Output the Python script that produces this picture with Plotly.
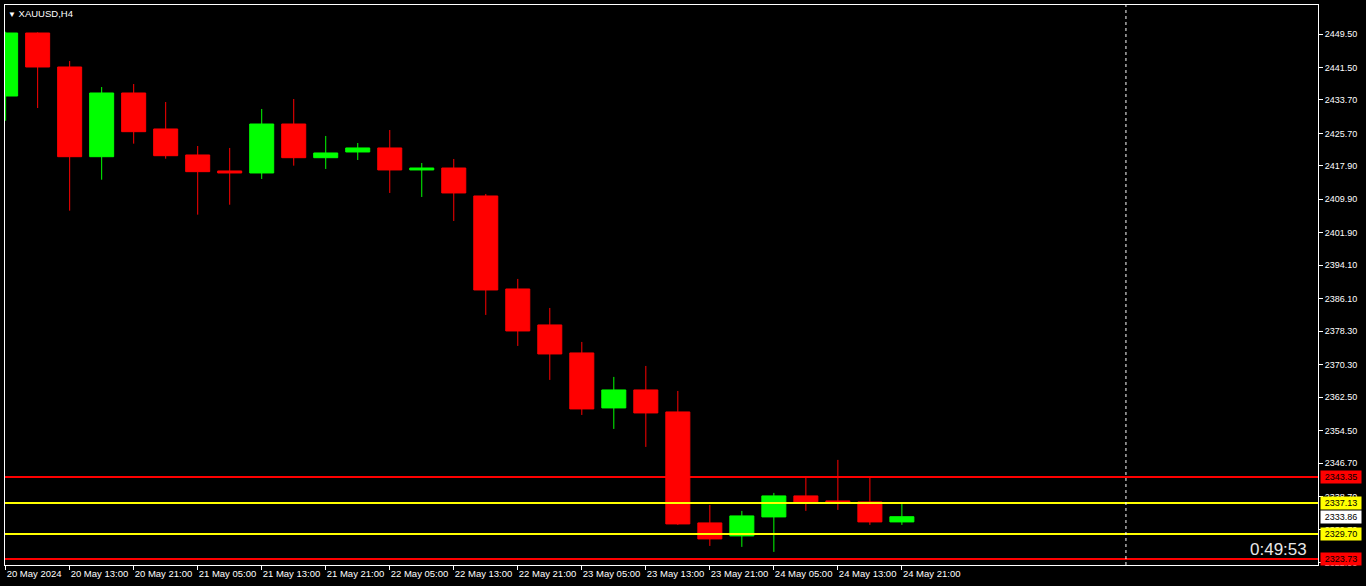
import plotly.graph_objects as go

# ---------------- data ----------------
symbol_title = "XAUUSD,H4"
tick_labels = ["20 May 2024", "20 May 13:00", "20 May 21:00", "21 May 05:00", "21 May 13:00",
               "21 May 21:00", "22 May 05:00", "22 May 13:00", "22 May 21:00", "23 May 05:00",
               "23 May 13:00", "23 May 21:00", "24 May 05:00", "24 May 13:00", "24 May 21:00"]
bar_index = list(range(29))
tick_index = list(range(0, 29, 2))

opens = [2434.65, 2449.74, 2441.60, 2420.11, 2435.37, 2426.75, 2420.52, 2416.69, 2416.21, 2427.94,
         2419.87, 2421.24, 2422.20, 2416.93, 2417.40, 2410.70, 2388.42, 2379.80, 2373.09, 2359.92,
         2364.23, 2358.96, 2332.37, 2329.26, 2333.81, 2338.84, 2337.64, 2337.40, 2332.61]
highs = [2450.05, 2449.90, 2443.03, 2436.80, 2437.52, 2433.21, 2422.67, 2422.20, 2431.54, 2433.93,
         2425.07, 2423.39, 2426.50, 2418.60, 2419.56, 2411.18, 2390.82, 2383.87, 2375.73, 2367.35,
         2369.98, 2363.99, 2336.69, 2335.25, 2339.56, 2343.39, 2347.47, 2343.39, 2336.93]
lows = [2428.73, 2431.77, 2407.18, 2414.60, 2423.23, 2419.63, 2406.22, 2408.60, 2414.77, 2417.96,
        2417.17, 2419.32, 2411.42, 2410.46, 2404.71, 2382.20, 2374.77, 2366.63, 2358.24, 2354.89,
        2350.58, 2331.90, 2326.86, 2326.63, 2325.43, 2335.25, 2335.49, 2331.90, 2331.90]
closes = [2449.74, 2441.60, 2420.11, 2435.37, 2426.10, 2420.35, 2416.52, 2416.21, 2427.94, 2419.87,
          2421.00, 2422.20, 2416.93, 2417.40, 2411.42, 2388.18, 2378.36, 2372.85, 2359.68, 2364.23,
          2358.72, 2332.13, 2328.54, 2334.05, 2338.84, 2337.40, 2337.16, 2332.61, 2333.86]

y_tick_values = [2449.50, 2441.50, 2433.70, 2425.70, 2417.90, 2409.90, 2401.90, 2394.10,
                 2386.10, 2378.30, 2370.30, 2362.50, 2354.50, 2346.70, 2338.70, 2330.70, 2322.90]

level_prices = [2343.35, 2337.13, 2329.70, 2323.73]
level_colors = ["#ff0000", "#ffff00", "#ffff00", "#ff0000"]
current_price = 2333.86
timer_text = "0:49:53"
future_marker_index = 35

# ---------------- figure ----------------
GREEN = "#00ff00"
RED = "#ff0000"
FONT = "Liberation Sans"

fig = go.Figure()
fig.add_trace(go.Candlestick(
    x=bar_index, open=opens, high=highs, low=lows, close=closes,
    increasing=dict(line=dict(color=GREEN, width=1), fillcolor=GREEN),
    decreasing=dict(line=dict(color=RED, width=1), fillcolor=RED),
    whiskerwidth=0, showlegend=False, hoverinfo="skip",
))

# horizontal levels
for p, c in zip(level_prices, level_colors):
    fig.add_shape(type="line", xref="paper", yref="y", x0=0, x1=1, y0=p, y1=p,
                  line=dict(color=c, width=2), layer="above")

# vertical dashed future marker
fig.add_shape(type="line", xref="x", yref="paper", x0=future_marker_index, x1=future_marker_index,
              y0=0, y1=1, line=dict(color="#ffffff", width=1, dash="3px,3px"), layer="above")

# right price labels
label_items = list(zip(level_prices, level_colors)) + [(current_price, "#ffffff")]
for p, c in label_items:
    fig.add_annotation(x=1, xref="paper", xanchor="left", xshift=2, y=p, yref="y",
                       text=f"{p:.2f}", showarrow=False, bgcolor=c, width=38, height=10,
                       borderpad=1, font=dict(family=FONT, size=9, color="#000000"))

# symbol title
fig.add_annotation(x=0, xref="paper", xanchor="left", xshift=1, y=1, yref="paper", yanchor="top",
                   yshift=-1, text="<span style='font-size:8px'>▼</span> " + symbol_title,
                   showarrow=False, font=dict(family=FONT, size=9.5, color="#ffffff"))

# timer
fig.add_annotation(x=1, xref="paper", xanchor="right", xshift=-9, y=0, yref="paper",
                   yanchor="bottom", yshift=4, text=timer_text, showarrow=False,
                   font=dict(family=FONT, size=17, color="#e8e8e8"))

fig.update_layout(
    width=1366, height=586,
    margin=dict(l=5, r=48, t=5, b=21, autoexpand=False),
    paper_bgcolor="#000000", plot_bgcolor="#000000",
    boxgap=0.25, boxgroupgap=0,
    xaxis=dict(range=[-0.02, 41], tickmode="array", tickvals=tick_index, ticktext=tick_labels,
               ticks="outside", ticklen=4, tickcolor="#ffffff", ticklabelposition="outside right",
               tickangle=0, automargin=False,
               tickfont=dict(family=FONT, size=9.5, color="#ffffff"),
               showgrid=False, zeroline=False, showline=True, linecolor="#ffffff", linewidth=1,
               mirror=True, rangeslider=dict(visible=False), fixedrange=True),
    yaxis=dict(range=[2322.29, 2456.45], side="right", tickmode="array", tickvals=y_tick_values,
               ticktext=[f"{v:.2f}" for v in y_tick_values], ticks="outside", ticklen=4,
               tickcolor="#ffffff", tickfont=dict(family=FONT, size=9, color="#ffffff"),
               automargin=False,
               showgrid=False, zeroline=False, showline=True, linecolor="#ffffff", linewidth=1,
               mirror=True, fixedrange=True),
)

fig.write_html("out.html", config={"displayModeBar": False},
               post_script="document.body.style.margin='0';document.body.style.background='#000';")
